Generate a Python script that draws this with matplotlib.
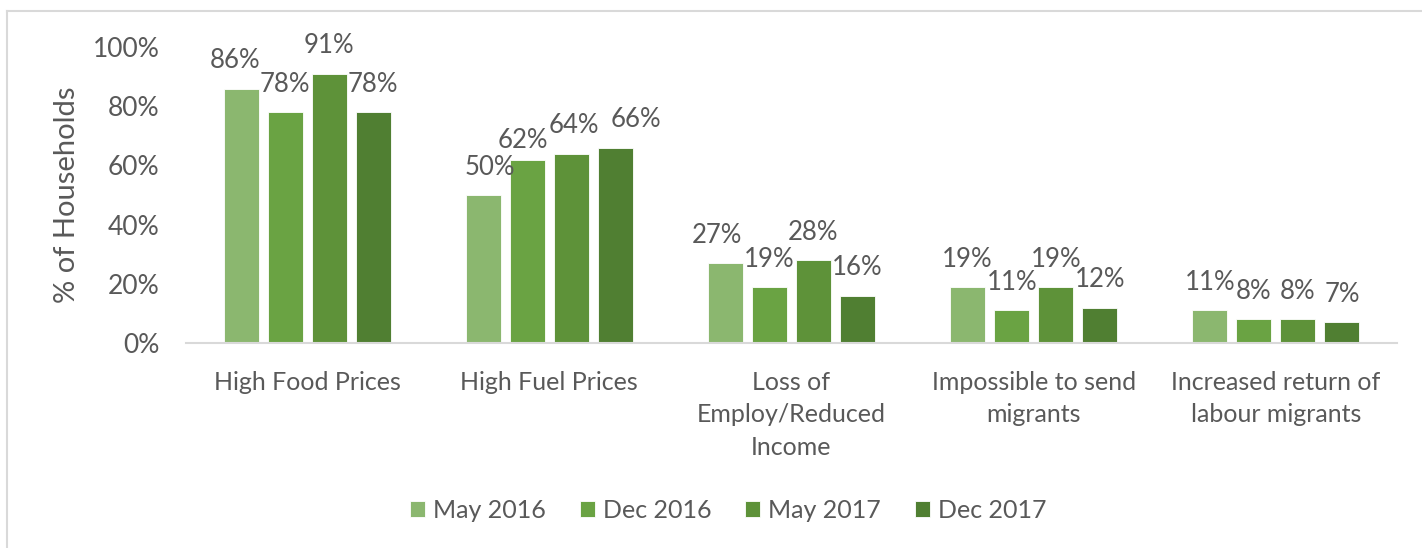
import numpy as np
import matplotlib.pyplot as plt
from matplotlib.lines import Line2D

plt.rcParams['font.family'] = ['Lato', 'DejaVu Sans']

categories = ["High Food Prices", "High Fuel Prices", "Loss of\nEmploy/Reduced\nIncome",
              "Impossible to send\nmigrants", "Increased return of\nlabour migrants"]
series_names = ["May 2016", "Dec 2016", "May 2017", "Dec 2017"]
may_2016 = [86, 50, 27, 19, 11]
dec_2016 = [78, 62, 19, 11, 8]
may_2017 = [91, 64, 28, 19, 8]
dec_2017 = [78, 66, 16, 12, 7]
colors = ["#8BB76F", "#6AA343", "#5E9239", "#507F32"]
y_ticks = [0, 20, 40, 60, 80, 100]

# small nudges of the data labels, like the original's placement (points)
label_dx = {(0, 0): -4, (1, 0): 5, (1, 3): 15, (2, 0): -6, (1, 1): -3, (1, 2): 2}
label_dy = {(1, 1): -6}

text_col = "#595959"
fig = plt.figure(figsize=(14.22, 5.48), dpi=100)
ax = fig.add_axes([0.1308, 0.374, 0.8516, 0.540])

x = np.arange(len(categories))
width = 0.1445
step = 0.1817
all_series = [may_2016, dec_2016, may_2017, dec_2017]
for i, (vals, name, c) in enumerate(zip(all_series, series_names, colors)):
    pos = x + (i - 1.5) * step
    bars = ax.bar(pos, vals, width, color=c, label=name, edgecolor="white", linewidth=0.6)
    for j, (b, v) in enumerate(zip(bars, vals)):
        dx = label_dx.get((j, i), 0)
        dy = 11 + label_dy.get((j, i), 0)
        ax.annotate(f"{v}%", (b.get_x() + b.get_width() / 2, v), xytext=(dx, dy),
                    textcoords="offset points", ha="center", va="bottom",
                    fontsize=18.5, color=text_col)

ax.set_xlim(-0.5, len(categories) - 0.5)
ax.set_ylim(0, 100)
ax.set_yticks(y_ticks)
ax.set_yticklabels([f"{t}%" for t in y_ticks], fontsize=19, color=text_col)
ax.set_xticks(x)
ax.set_xticklabels(categories, fontsize=18, color=text_col, linespacing=1.5)
ax.tick_params(axis="both", length=0)
ax.tick_params(axis="x", pad=20)
ax.tick_params(axis="y", pad=19)
ax.set_ylabel("% of Households", fontsize=21, color=text_col, labelpad=9)

for s in ["top", "right", "left"]:
    ax.spines[s].set_visible(False)
ax.spines["bottom"].set_color("#d9d9d9")
ax.spines["bottom"].set_linewidth(1.5)

handles, labels = ax.get_legend_handles_labels()
fig.legend(handles, labels, loc="center", bbox_to_anchor=(0.512, 0.069), ncol=4,
           frameon=False, fontsize=18, labelcolor=text_col, handlelength=0.6,
           handleheight=0.6, handletextpad=0.32, columnspacing=1.35)

# chart frame (left and top edges visible in the crop)
fig.add_artist(Line2D([0.005, 0.005], [0, 0.98], transform=fig.transFigure,
                      color="#d9d9d9", linewidth=1.5))
fig.add_artist(Line2D([0.005, 1.0], [0.98, 0.98], transform=fig.transFigure,
                      color="#d9d9d9", linewidth=1.5))

fig.savefig("out.png", dpi=100)
